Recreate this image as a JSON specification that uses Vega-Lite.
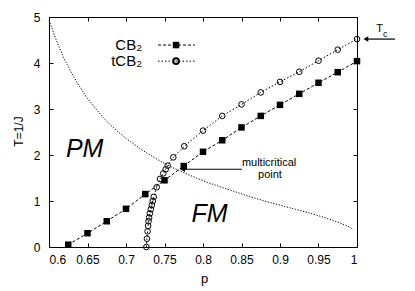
{
  "$schema": "https://vega.github.io/schema/vega-lite/v6.json",
  "width": 308,
  "height": 230,
  "autosize": "none",
  "padding": {"left": 49, "top": 17, "right": 58, "bottom": 44},
  "background": "white",
  "config": {
    "font": "Liberation Sans",
    "view": {"stroke": null},
    "axis": {
      "grid": false,
      "domainColor": "#000",
      "domainWidth": 1,
      "tickColor": "#000",
      "tickSize": -4,
      "labelColor": "#000",
      "labelFont": "Liberation Sans",
      "labelFontSize": 12,
      "titleFont": "Liberation Sans",
      "titleFontWeight": "normal",
      "titleColor": "#000",
      "titleFontSize": 12
    }
  },
  "datasets": {
    "cb2": [
      {"p": 0.625, "T": 0.05}, {"p": 0.65, "T": 0.30}, {"p": 0.675, "T": 0.56}, {"p": 0.7, "T": 0.83},
      {"p": 0.725, "T": 1.15}, {"p": 0.75, "T": 1.45}, {"p": 0.775, "T": 1.76}, {"p": 0.8, "T": 2.07},
      {"p": 0.825, "T": 2.32}, {"p": 0.85, "T": 2.60}, {"p": 0.875, "T": 2.85}, {"p": 0.9, "T": 3.09},
      {"p": 0.925, "T": 3.33}, {"p": 0.95, "T": 3.57}, {"p": 0.975, "T": 3.80}, {"p": 1.0, "T": 4.04}
    ],
    "tcb2": [
      {"p": 0.7265, "T": 0}, {"p": 0.7272, "T": 0.18}, {"p": 0.728, "T": 0.34}, {"p": 0.7287, "T": 0.46},
      {"p": 0.7293, "T": 0.56}, {"p": 0.73, "T": 0.64}, {"p": 0.731, "T": 0.73}, {"p": 0.7322, "T": 0.82},
      {"p": 0.7335, "T": 0.91}, {"p": 0.7347, "T": 1.0}, {"p": 0.736, "T": 1.09}, {"p": 0.7399, "T": 1.3},
      {"p": 0.7442, "T": 1.48}, {"p": 0.7484, "T": 1.6}, {"p": 0.7516, "T": 1.69}, {"p": 0.7542, "T": 1.77},
      {"p": 0.7614, "T": 1.95}, {"p": 0.7757, "T": 2.19}, {"p": 0.8, "T": 2.53}, {"p": 0.825, "T": 2.85},
      {"p": 0.85, "T": 3.10}, {"p": 0.875, "T": 3.36}, {"p": 0.9, "T": 3.59}, {"p": 0.925, "T": 3.81},
      {"p": 0.95, "T": 4.05}, {"p": 0.975, "T": 4.29}, {"p": 1.0, "T": 4.52}
    ],
    "nish": [
      {"p": 0.6, "T": 4.93}, {"p": 0.61, "T": 4.47}, {"p": 0.62, "T": 4.08}, {"p": 0.63, "T": 3.76},
      {"p": 0.64, "T": 3.48}, {"p": 0.65, "T": 3.23}, {"p": 0.66, "T": 3.02}, {"p": 0.67, "T": 2.82},
      {"p": 0.68, "T": 2.65}, {"p": 0.69, "T": 2.50}, {"p": 0.70, "T": 2.36}, {"p": 0.72, "T": 2.12},
      {"p": 0.74, "T": 1.91}, {"p": 0.76, "T": 1.73}, {"p": 0.78, "T": 1.58}, {"p": 0.80, "T": 1.44},
      {"p": 0.82, "T": 1.32}, {"p": 0.84, "T": 1.21}, {"p": 0.86, "T": 1.10}, {"p": 0.88, "T": 1.00},
      {"p": 0.90, "T": 0.91}, {"p": 0.92, "T": 0.82}, {"p": 0.94, "T": 0.73}, {"p": 0.96, "T": 0.63},
      {"p": 0.98, "T": 0.51}, {"p": 0.99, "T": 0.435}, {"p": 0.995, "T": 0.38}
    ],
    "legend": [
      {"series": "CB₂", "p": 0.7208, "T": 4.39, "p1": 0.7416, "p2": 0.7896, "pm": 0.765},
      {"series": "tCB₂", "p": 0.7208, "T": 4.04, "p1": 0.7416, "p2": 0.7896, "pm": 0.765}
    ],
    "phases": [
      {"label": "PM", "p": 0.622, "T": 1.96},
      {"label": "FM", "p": 0.785, "T": 0.55}
    ],
    "arrows": [
      {"p": 0.7735, "p2": 0.8505, "T": 1.69},
      {"p": 1.0115, "p2": 1.0494, "T": 4.52}
    ],
    "notesLeft": [
      {"text": "multicritical", "p": 0.8505, "T": 1.82}
    ],
    "notesCenter": [
      {"text": "point", "p": 0.887, "T": 1.56, "size": 11},
      {"text": "T", "p": 1.0294, "T": 4.73, "size": 11},
      {"text": "c", "p": 1.0366, "T": 4.62, "size": 9}
    ]
  },
  "layer": [
    {
      "encoding": {
        "x": {
          "field": "p", "type": "quantitative",
          "scale": {"domain": [0.6, 1], "nice": false, "zero": false},
          "axis": {"orient": "bottom", "values": [0.6, 0.65, 0.7, 0.75, 0.8, 0.85, 0.9, 0.95, 1], "format": "~g", "title": "p", "labelPadding": 11, "titleFontSize": 13, "titleX": 155, "titleY": 35, "titleBaseline": "alphabetic", "titleAlign": "center"}
        },
        "y": {
          "field": "T", "type": "quantitative",
          "scale": {"domain": [0, 5], "nice": false, "zero": false},
          "axis": {"orient": "left", "values": [0, 1, 2, 3, 4, 5], "title": "T=1/J", "labelPadding": 13, "titleX": -31, "titleY": 114, "titleBaseline": "middle", "titleAlign": "center", "titleAngle": 270}
        }
      },
      "layer": [
        {"data": {"name": "nish"}, "mark": {"type": "line", "color": "#000", "strokeWidth": 1, "strokeDash": [1.2, 1.6]}},
        {"data": {"name": "cb2"}, "mark": {"type": "line", "color": "#000", "strokeWidth": 1, "strokeDash": [3, 2]}},
        {"data": {"name": "cb2"}, "mark": {"type": "point", "shape": "square", "filled": true, "color": "#000", "size": 42, "opacity": 1}},
        {"data": {"name": "tcb2"}, "mark": {"type": "line", "color": "#000", "strokeWidth": 1, "strokeDash": [1.5, 2]}},
        {"data": {"name": "tcb2"}, "mark": {"type": "point", "shape": "circle", "filled": false, "color": "#000", "size": 32, "strokeWidth": 1, "opacity": 1}},
        {"data": {"name": "legend"}, "transform": [{"filter": "datum.series == 'CB₂'"}], "mark": {"type": "rule", "color": "#000", "strokeWidth": 1, "strokeDash": [3, 2]}, "encoding": {"x": {"field": "p1", "type": "quantitative"}, "x2": {"field": "p2"}}},
        {"data": {"name": "legend"}, "transform": [{"filter": "datum.series == 'tCB₂'"}], "mark": {"type": "rule", "color": "#000", "strokeWidth": 1, "strokeDash": [1.5, 2]}, "encoding": {"x": {"field": "p1", "type": "quantitative"}, "x2": {"field": "p2"}}},
        {"data": {"name": "legend"}, "transform": [{"filter": "datum.series == 'CB₂'"}], "mark": {"type": "point", "shape": "square", "filled": true, "color": "#000", "size": 42, "opacity": 1}, "encoding": {"x": {"field": "pm", "type": "quantitative"}}},
        {"data": {"name": "legend"}, "transform": [{"filter": "datum.series == 'tCB₂'"}], "mark": {"type": "point", "shape": "circle", "filled": false, "color": "#000", "size": 32, "opacity": 1}, "encoding": {"x": {"field": "pm", "type": "quantitative"}}},
        {"data": {"name": "legend"}, "mark": {"type": "text", "align": "right", "baseline": "middle", "fontSize": 15, "color": "#000"}, "encoding": {"text": {"field": "series"}}},
        {"data": {"name": "phases"}, "mark": {"type": "text", "align": "left", "baseline": "alphabetic", "fontSize": 25, "fontStyle": "italic", "color": "#000"}, "encoding": {"text": {"field": "label"}}},
        {"data": {"name": "arrows"}, "mark": {"type": "rule", "color": "#000", "strokeWidth": 1.2}, "encoding": {"x2": {"field": "p2"}}},
        {"data": {"name": "arrows"}, "mark": {"type": "point", "shape": "triangle-left", "filled": true, "color": "#000", "size": 30, "opacity": 1}},
        {"data": {"name": "notesLeft"}, "mark": {"type": "text", "align": "left", "baseline": "middle", "fontSize": 11, "color": "#000"}, "encoding": {"text": {"field": "text"}}},
        {"data": {"name": "notesCenter"}, "mark": {"type": "text", "align": "center", "baseline": "middle", "color": "#000"}, "encoding": {"text": {"field": "text"}, "size": {"field": "size", "type": "quantitative", "scale": null}}}
      ]
    },
    {
      "data": {"values": [{"p": 0.6, "T": 0}]},
      "mark": {"type": "point", "opacity": 0},
      "encoding": {
        "x": {"field": "p", "type": "quantitative", "scale": {"domain": [0.6, 1], "nice": false, "zero": false},
          "axis": {"orient": "top", "values": [0.6, 0.65, 0.7, 0.75, 0.8, 0.85, 0.9, 0.95, 1], "labels": false, "title": null}},
        "y": {"field": "T", "type": "quantitative", "scale": {"domain": [0, 5], "nice": false, "zero": false},
          "axis": {"orient": "right", "values": [0, 1, 2, 3, 4, 5], "labels": false, "title": null}}
      }
    }
  ]
}
